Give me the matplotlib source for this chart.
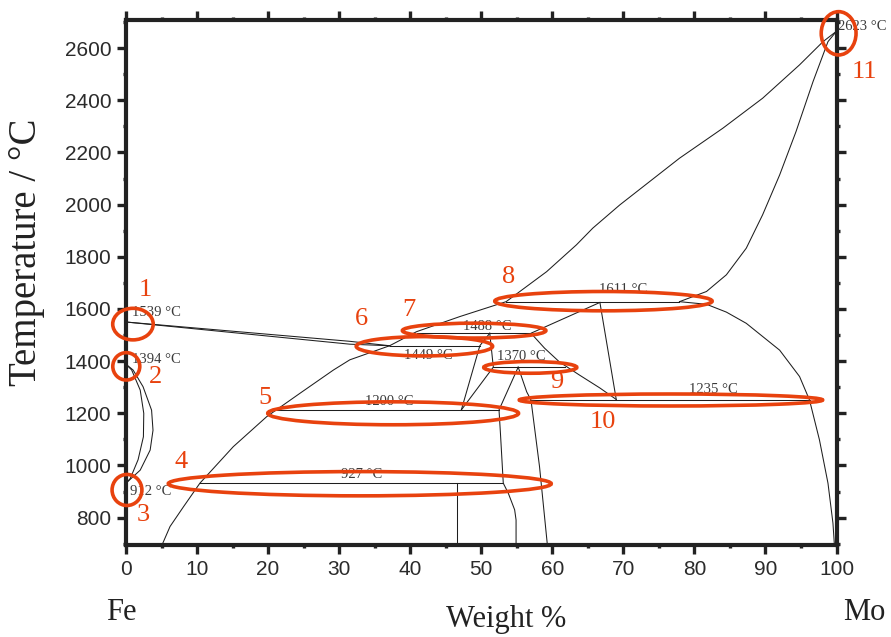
import matplotlib
matplotlib.use('Agg')
import matplotlib.pyplot as plt
from matplotlib.patches import Ellipse
from matplotlib.ticker import MultipleLocator

# phase boundaries: wt% Mo and temperature (as drawn on the axis scale)
fe_liquidus_w = [0, 31.5, 37.1]
fe_liquidus_t = [1550, 1476, 1459]
fe_solidus_w = [0, 31.5, 37.1]
fe_solidus_t = [1550, 1465, 1459]

gamma_outer_w = [0, 1.0, 2.4, 3.6, 3.8, 3.4, 2.0, 0]
gamma_outer_t = [1388, 1366, 1302, 1212, 1135, 1059, 982, 932]
gamma_inner_w = [0, 0.8, 2.0, 2.5, 2.45, 1.7, 0.6, 0]
gamma_inner_t = [1388, 1366, 1289, 1200, 1110, 1022, 950, 932]

alpha_solvus_w = [5.1, 6.2, 8.1, 10.4, 15.1, 19.8, 24.5, 29.2, 31.5, 37.1]
alpha_solvus_t = [697, 766, 842, 932, 1072, 1187, 1277, 1366, 1405, 1459]

mo_liquidus_w = [37.1, 40.9, 47.0, 53.5, 59.2, 63.4, 65.7, 69.5, 77.9, 84.0, 89.6, 94.8, 98.1, 100]
mo_liquidus_t = [1459, 1513, 1571, 1628, 1743, 1846, 1910, 1999, 2178, 2293, 2408, 2536, 2625, 2665]
mo_solidus_w = [77.9, 81.7, 84.5, 87.3, 89.6, 92.0, 94.3, 96.7, 98.8, 100]
mo_solidus_t = [1628, 1667, 1731, 1833, 1961, 2114, 2280, 2472, 2625, 2665]
mo_solvus_w = [77.9, 81.7, 84.5, 87.3, 92.0, 94.8, 96.2, 97.6, 98.8, 99.5, 99.7]
mo_solvus_t = [1628, 1618, 1588, 1545, 1442, 1341, 1251, 1098, 932, 779, 697]

sigma_left_w = [66.7, 57.0, 58.9, 61.0, 63.8, 66.7, 69.0]
sigma_left_t = [1625, 1507, 1450, 1397, 1347, 1297, 1253]
sigma_right_w = [66.7, 69.0]
sigma_right_t = [1625, 1253]

r_left_w = [51.2, 49.8, 47.2]
r_left_t = [1507, 1459, 1213]
r_right_w = [51.2, 51.7, 47.2]
r_right_t = [1507, 1377, 1213]

mu_left_w = [55.2, 52.5, 52.7, 53.1, 53.8, 54.7, 54.9, 54.9]
mu_left_t = [1377, 1213, 1124, 932, 894, 830, 791, 697]
mu_right_w = [55.2, 56.4, 57.0, 58.2, 59.3]
mu_right_t = [1377, 1282, 1251, 996, 697]

lambda_w = [46.6, 46.6]
lambda_t = [932, 697]

# invariant lines: (left wt%, right wt%, drawn temperature, label, label wt%, label temperature)
iso_left = [10.4, 21.2, 37.1, 41.0, 51.7, 53.5, 56.9]
iso_right = [53.1, 52.5, 49.8, 57.0, 61.8, 77.9, 96.2]
iso_t = [932, 1213, 1459, 1507, 1377, 1628, 1251]
iso_labels = ['927 °C', '1200 °C', '1449 °C', '1488 °C', '1370 °C', '1611 °C', '1235 °C']
iso_label_w = [33.1, 37.1, 42.6, 50.8, 55.7, 70.0, 82.7]
iso_label_t = [964, 1245, 1421, 1532, 1417, 1673, 1290]

# pure element points
pt_labels = ['1539 °C', '1394 °C', '912 °C', '2623 °C']
pt_label_w = [0.9, 0.8, 0.6, 100.2]
pt_label_t = [1585, 1407, 900, 2683]

# highlighted regions
ell_w = [0.98, 0.04, 0.14, 32.9, 37.6, 42.0, 49.0, 67.2, 56.9, 76.7, 100.3]
ell_t = [1542, 1380, 906, 930, 1200, 1457, 1517, 1630, 1376, 1251, 2657]
ell_width = [5.7, 3.8, 4.2, 53.9, 35.3, 19.2, 20.2, 30.6, 13.1, 42.7, 4.9]
ell_height = [121, 105, 119, 93, 88, 74, 57, 74, 45, 46, 166]
num_labels = ['1', '2', '3', '4', '5', '6', '7', '8', '9', '10', '11']
num_w = [2.7, 4.2, 2.4, 7.8, 19.5, 33.2, 39.8, 53.8, 60.6, 67.1, 104.0]
num_t = [1672, 1341, 810, 1015, 1258, 1561, 1596, 1724, 1321, 1168, 2510]

RED = '#E8420E'
LINE = '#1e1e1e'
SERIF = ['Liberation Serif', 'DejaVu Serif']
SANS = ['Liberation Sans', 'DejaVu Sans']

fig = plt.figure(figsize=(8.91, 6.37), dpi=100)
ax = fig.add_axes([126 / 891, 1 - 545 / 637, 710.5 / 891, 525 / 637])

curves = [
    (fe_liquidus_w, fe_liquidus_t), (fe_solidus_w, fe_solidus_t),
    (gamma_outer_w, gamma_outer_t), (gamma_inner_w, gamma_inner_t),
    (alpha_solvus_w, alpha_solvus_t),
    (mo_liquidus_w, mo_liquidus_t), (mo_solidus_w, mo_solidus_t), (mo_solvus_w, mo_solvus_t),
    (sigma_left_w, sigma_left_t), (sigma_right_w, sigma_right_t),
    (r_left_w, r_left_t), (r_right_w, r_right_t),
    (mu_left_w, mu_left_t), (mu_right_w, mu_right_t),
    (lambda_w, lambda_t),
]
for w, t in curves:
    ax.plot(w, t, color=LINE, lw=0.75, zorder=2)

for x0, x1, t in zip(iso_left, iso_right, iso_t):
    ax.plot([x0, x1], [t, t], color=LINE, lw=0.75, zorder=2)

for s, w, t in zip(iso_labels, iso_label_w, iso_label_t):
    ax.text(w, t, s, ha='center', va='center', fontsize=10.5, color='#3a3a3a',
            family=SERIF, zorder=3)
for s, w, t in zip(pt_labels, pt_label_w, pt_label_t):
    ax.text(w, t, s, ha='left', va='center', fontsize=10.5, color='#3a3a3a',
            family=SERIF, zorder=3, clip_on=False)

for w, t, ew, eh in zip(ell_w, ell_t, ell_width, ell_height):
    ax.add_patch(Ellipse((w, t), ew, eh, fill=False, ec=RED, lw=2.6,
                         zorder=5, clip_on=False))
for s, w, t in zip(num_labels, num_w, num_t):
    ax.text(w, t, s, ha='center', va='center', fontsize=19, color=RED,
            family=SERIF, zorder=6, clip_on=False)

ax.set_xlim(0, 100)
ax.set_ylim(695, 2708)
ax.set_xticks(range(0, 101, 10))
ax.set_yticks(range(800, 2601, 200))
ax.xaxis.set_minor_locator(MultipleLocator(5))
ax.yaxis.set_minor_locator(MultipleLocator(100))
ax.tick_params(which='both', direction='out', top=True, right=True,
               labeltop=False, labelright=False, color='#222222')
ax.tick_params(which='major', length=6.5, width=2.4, labelsize=15,
               labelcolor='#2b2b2b', pad=4)
ax.tick_params(which='minor', length=2.5, width=2.4)
for lab in ax.get_xticklabels() + ax.get_yticklabels():
    lab.set_family(SANS)
for sp in ax.spines.values():
    sp.set_linewidth(3)
    sp.set_color('#222222')

fig.text(27 / 891, 1 - 252 / 637, 'Temperature / °C', rotation=90, ha='center',
         va='center', fontsize=28, family=SERIF, color='#222222')
fig.text(506 / 891, 1 - 620 / 637, 'Weight %', ha='center', va='center',
         fontsize=22, family=SERIF, color='#222222')
fig.text(121 / 891, 1 - 612 / 637, 'Fe', ha='center', va='center',
         fontsize=22, family=SERIF, color='#222222')
fig.text(843 / 891, 1 - 612 / 637, 'Mo', ha='left', va='center',
         fontsize=22, family=SERIF, color='#222222')

fig.savefig('out.png', dpi=100)
